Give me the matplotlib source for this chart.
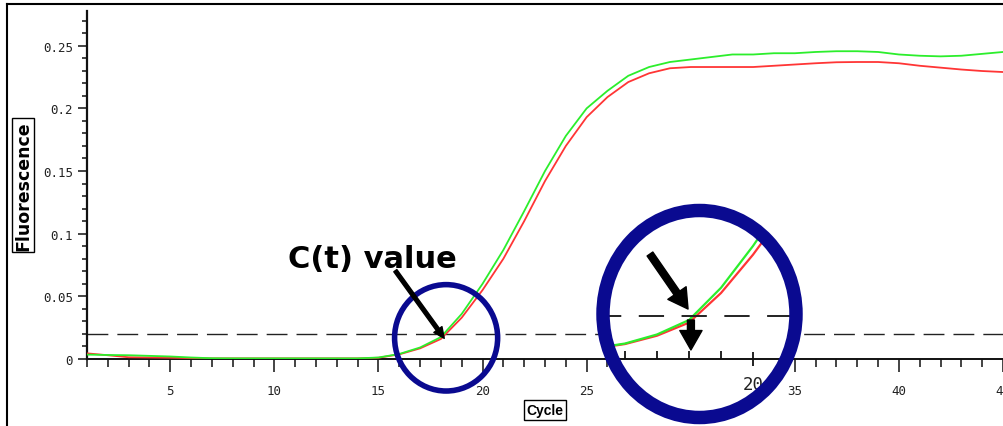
import matplotlib
matplotlib.use("Agg")
import matplotlib.pyplot as plt
from matplotlib.patches import Ellipse
from matplotlib.lines import Line2D
from matplotlib.ticker import MultipleLocator, FuncFormatter

# ---------------- data ----------------
cycles = list(range(1, 46))
green = [0.0035, 0.0032, 0.0030, 0.0025, 0.0020, 0.0012, 0.0006, 0.0005, 0.0005, 0.0005,
         0.0005, 0.0005, 0.0005, 0.0005, 0.0012, 0.0040, 0.0092, 0.0175, 0.0360, 0.0600,
         0.0870, 0.1180, 0.1500, 0.1780, 0.2000, 0.2140, 0.2260, 0.2330, 0.2370, 0.2390,
         0.2410, 0.2430, 0.2430, 0.2440, 0.2440, 0.2450, 0.2456, 0.2456, 0.2450, 0.2430,
         0.2420, 0.2415, 0.2420, 0.2435, 0.2450]
red = [0.0045, 0.0030, 0.0014, 0.0012, 0.0010, 0.0007, 0.0005, 0.0005, 0.0005, 0.0005,
       0.0005, 0.0005, 0.0005, 0.0005, 0.0010, 0.0037, 0.0085, 0.0160, 0.0330, 0.0550,
       0.0800, 0.1100, 0.1420, 0.1700, 0.1930, 0.2090, 0.2210, 0.2280, 0.2320, 0.2330,
       0.2330, 0.2330, 0.2330, 0.2340, 0.2350, 0.2360, 0.2368, 0.2370, 0.2370, 0.2360,
       0.2340, 0.2325, 0.2310, 0.2298, 0.2290]
threshold = 0.02
x_label = "Cycle"
y_label = "Fluorescence"
annot_text = "C(t) value"

W, H = 1004, 427
GREEN = "#2cee2c"
RED = "#ff3535"
NAVY = "#0a0a90"
TICKC = "#222222"


def fx(x):
    return x / W


def fy(y):
    return 1 - y / H


fig = plt.figure(figsize=(W / 100, H / 100), dpi=100)
fig.patch.set_facecolor("white")

# ---------------- main axes ----------------
ax = fig.add_axes([fx(87), fy(360), fx(1003) - fx(87), fy(12) - fy(360)])
ax.set_xlim(1, 45)
ax.set_ylim(0, 0.2777)
ax.plot(cycles, red, color=RED, lw=1.3, zorder=3)
ax.plot(cycles, green, color=GREEN, lw=1.3, zorder=4)
ax.axhline(threshold, color="#222222", lw=1.0, dashes=(15, 6.5), zorder=2)

for s in ("top", "right"):
    ax.spines[s].set_visible(False)
ax.spines["left"].set_linewidth(1.6)
ax.spines["bottom"].set_linewidth(1.4)
ax.spines["left"].set_color("#111111")
ax.spines["bottom"].set_color("#111111")

ax.xaxis.set_major_locator(MultipleLocator(5))
ax.xaxis.set_minor_locator(MultipleLocator(1))
ax.yaxis.set_major_locator(MultipleLocator(0.05))
ax.yaxis.set_minor_locator(MultipleLocator(0.01))
ax.yaxis.set_major_formatter(FuncFormatter(lambda v, p: "%g" % round(v, 3)))
ax.tick_params(axis="x", which="major", length=9.4, width=1.1, pad=8.6,
               labelsize=9, labelcolor=TICKC, color="#111111")
ax.tick_params(axis="x", which="minor", length=5.8, width=1.1, color="#111111")
ax.tick_params(axis="y", which="major", length=6.5, width=1.1, pad=3.6,
               labelsize=9, labelcolor=TICKC, color="#111111")
ax.tick_params(axis="y", which="minor", length=3.6, width=1.1, color="#111111")
for lab in ax.get_xticklabels() + ax.get_yticklabels():
    lab.set_fontfamily("DejaVu Sans Mono")

# small circle around the threshold crossing
ax.add_patch(Ellipse((18.25, 0.0169), 4.95, 0.0849, fill=False, ec=NAVY, lw=4.0,
                     zorder=6, clip_on=False))

# annotation text + arrow
ax.text(14.69, 0.0734, annot_text, ha="center", va="baseline", fontsize=22,
        fontweight="bold", family="DejaVu Sans", color="black", zorder=7)
ax.annotate("", xy=(18.16, 0.0165), xytext=(15.81, 0.0705),
            arrowprops=dict(arrowstyle="simple,head_width=1.2,head_length=1.3,tail_width=0.45",
                            mutation_scale=6, fc="black", ec="black", shrinkA=0, shrinkB=0),
            zorder=7)

# axis labels in boxes
fig.text(fx(23), fy(186), y_label, rotation=90, ha="center", va="center",
         fontsize=12.5, fontweight="bold", family="DejaVu Sans",
         bbox=dict(boxstyle="square,pad=0.12", fc="white", ec="black", lw=1.0))
fig.text(fx(545), fy(411), x_label, ha="center", va="center",
         fontsize=10, fontweight="bold", family="Liberation Sans",
         bbox=dict(boxstyle="square,pad=0.2", fc="white", ec="black", lw=1.0))

# outer frame (top + left edges)
fig.add_artist(Line2D([fx(7), fx(7)], [fy(5), 0], transform=fig.transFigure,
                      color="black", lw=1.5))
fig.add_artist(Line2D([fx(7), 1], [fy(5), fy(5)], transform=fig.transFigure,
                      color="black", lw=1.5))

# ---------------- magnified inset ----------------
cx, cy = 699.5, 315
rx, ry = 96.5, 103.5
disk = Ellipse((fx(cx), fy(cy)), 2 * rx / W, 2 * ry / H, transform=fig.transFigure,
               fc="white", ec="none", zorder=0.5)
fig.add_artist(disk)
clip = Ellipse((fx(cx), fy(cy)), 2 * rx / W, 2 * ry / H, transform=fig.transFigure)
clip_outer = Ellipse((fx(cx), fy(cy)), 2 * (rx + 7) / W, 2 * (ry + 7) / H,
                     transform=fig.transFigure)

ins = fig.add_axes([fx(596), fy(360), fx(803) - fx(596), fy(205) - fy(360)])
ins.set_zorder(1)
ins.patch.set_visible(False)
ins.set_xlim(15.09375, 21.5625)
ins.set_ylim(-0.00488, 0.0841)
for s in ("top", "right", "left"):
    ins.spines[s].set_visible(False)
ins.spines["bottom"].set_linewidth(1.4)
ins.spines["bottom"].set_color("#111111")
ins.spines["bottom"].set_clip_path(clip_outer)
ins.set_yticks([])
ins.xaxis.set_major_locator(MultipleLocator(5))
ins.xaxis.set_minor_locator(MultipleLocator(1))
ins.tick_params(axis="x", which="major", direction="inout", length=9.4, width=1.3,
                pad=7, labelsize=12.5, labelcolor=TICKC, color="#111111")
ins.tick_params(axis="x", which="minor", direction="in", length=5.8, width=1.3,
                color="#111111")
for lab in ins.get_xticklabels():
    lab.set_fontfamily("DejaVu Sans Mono")

l1, = ins.plot(cycles, red, color=RED, lw=1.6)
l2, = ins.plot(cycles, green, color=GREEN, lw=1.6)
l3 = ins.axhline(threshold, color="#222222", lw=1.4, dashes=(13, 9))
for art in (l1, l2, l3):
    art.set_clip_path(clip)

arrow_style = "simple,head_width=1.6,head_length=1.4,tail_width=0.5"
a1 = ins.annotate("", xy=(17.97, 0.0238), xytext=(16.78, 0.0554),
                  arrowprops=dict(arrowstyle=arrow_style, mutation_scale=10,
                                  fc="black", ec="black", shrinkA=0, shrinkB=0))
a2 = ins.annotate("", xy=(18.06, 0.0003), xytext=(18.06, 0.0175),
                  arrowprops=dict(arrowstyle=arrow_style, mutation_scale=10,
                                  fc="black", ec="black", shrinkA=0, shrinkB=0))

ring = Ellipse((fx(cx), fy(cy)), 2 * rx / W, 2 * ry / H, transform=fig.transFigure,
               fill=False, ec=NAVY, lw=9.7, zorder=2)
fig.add_artist(ring)

fig.savefig("out.png", dpi=100, facecolor="white")
